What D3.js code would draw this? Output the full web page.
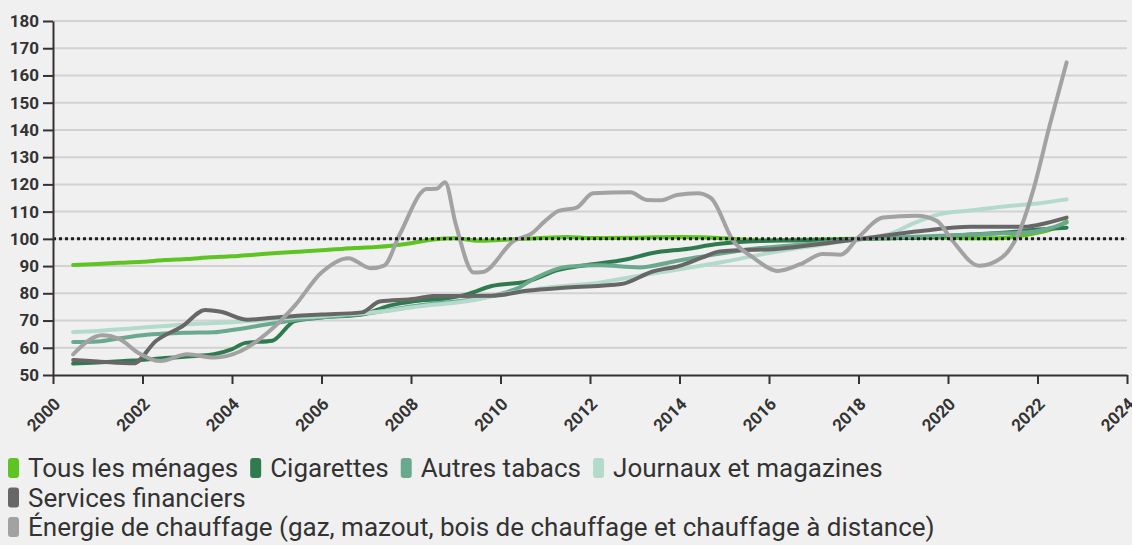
<!DOCTYPE html>
<html>
<head>
<meta charset="utf-8">
<script src="https://cdn.jsdelivr.net/npm/d3@7"></script>
<style>
	html, body { margin: 0; padding: 0; background: #f0f0f0; }
	svg { display: block; font-family: Roboto, "Noto Sans", sans-serif; }
</style>
</head>
<body>
<svg id="chart" width="1132" height="545"></svg>
<script>
// values, [year, index]
const menages = [
	[2000.45, 90.4], [2001, 90.8], [2001.5, 91.2], [2002, 91.6], [2002.5, 92.2], [2003, 92.6],
	[2003.5, 93.2], [2004, 93.6], [2004.5, 94.2], [2005, 94.8], [2005.5, 95.3], [2006, 95.8],
	[2006.5, 96.4], [2007, 96.8], [2007.5, 97.4], [2008, 98.4], [2008.5, 99.8], [2009, 100.2],
	[2009.5, 99.3], [2010, 99.6], [2010.5, 100], [2011, 100.4], [2011.5, 100.7], [2012, 100.3],
	[2013, 100.4], [2014, 100.7], [2014.5, 100.6], [2015, 100.2], [2015.5, 99.7], [2016, 99.5],
	[2017, 99.8], [2018, 100], [2019, 100.3], [2020, 100.4], [2020.5, 100.2], [2021, 100.2],
	[2021.5, 100.8], [2022, 102.2], [2022.3, 103.5], [2022.65, 106.4]
];

const cigarettes = [
	[2000.45, 54.2], [2001, 54.6], [2001.8, 55.3], [2002.5, 56.2], [2003, 56.8], [2003.6, 57.6],
	[2004, 59.5], [2004.3, 61.8], [2004.9, 62.6], [2005.4, 69.8], [2006, 71.1], [2006.9, 72.2],
	[2007.5, 75.4], [2008.1, 77.2], [2008.8, 78.2], [2009.25, 79.6], [2009.8, 82.7], [2010.6, 84.4],
	[2011.3, 88.6], [2011.9, 90.3], [2012.8, 92.4], [2013.4, 94.8], [2014.2, 96.4], [2014.8, 98],
	[2015.8, 99.2], [2016.5, 99.4], [2017.5, 99.6], [2018.5, 100.2], [2019.5, 100.6], [2020.5, 101.6],
	[2021.5, 102.6], [2022, 103.4], [2022.65, 104.1]
];

const autresTabacs = [
	[2000.45, 62.1], [2001, 62.3], [2001.5, 63.5], [2002, 64.6], [2002.5, 65.2], [2003, 65.5],
	[2003.6, 65.7], [2004, 66.5], [2004.5, 67.8], [2005, 69.2], [2005.5, 70.4], [2006, 71.2],
	[2007, 72.6], [2007.5, 73.8], [2008, 75.2], [2008.5, 76.2], [2009, 77], [2009.5, 78],
	[2010, 79.8], [2010.4, 82], [2010.8, 85.8], [2011.5, 89.8], [2012.2, 90.3], [2013.1, 89.5],
	[2013.9, 91.8], [2014.8, 94.3], [2015.8, 96.6], [2016.5, 97.6], [2017.5, 99], [2018.2, 100],
	[2019, 100.6], [2020, 101.2], [2021, 101.9], [2021.8, 102.4], [2022.3, 104], [2022.65, 106]
];

const journaux = [
	[2000.45, 65.8], [2001, 66.2], [2001.5, 66.8], [2002, 67.4], [2002.5, 68], [2003, 68.6],
	[2003.5, 69], [2004, 69.4], [2004.5, 69.9], [2005, 70.6], [2005.5, 71.2], [2006, 71.6],
	[2006.5, 72.2], [2007, 72.8], [2007.5, 73.6], [2008, 74.8], [2008.5, 75.8], [2009, 76.5],
	[2009.5, 77.8], [2010, 79.6], [2010.5, 80.8], [2011, 82], [2011.5, 82.8], [2012.2, 83.9],
	[2013, 86.2], [2013.5, 87.5], [2014, 88.8], [2014.5, 90.2], [2015, 91.6], [2015.5, 93.2],
	[2016, 94.8], [2016.5, 96.2], [2017, 97.4], [2017.5, 98.7], [2018, 100], [2018.7, 101.8],
	[2019.2, 105.5], [2019.8, 109], [2020.5, 110.4], [2021.3, 112], [2022, 113], [2022.65, 114.5]
];

const services = [
	[2000.45, 55.5], [2001, 55], [2001.8, 54.3], [2002.3, 62.5], [2002.9, 68], [2003.4, 73.9],
	[2003.75, 73.2], [2004.35, 70.3], [2004.9, 71], [2005.4, 71.7], [2006, 72.2], [2006.9, 73],
	[2007.3, 77], [2008.1, 78], [2008.5, 79], [2009.8, 79.1], [2010.6, 80.9], [2011.5, 82.1],
	[2012.7, 83.4], [2013.4, 88], [2014, 90.1], [2014.5, 93.1], [2014.9, 95.4], [2015.3, 95.8],
	[2016.1, 96.2], [2017, 97.8], [2018, 99.9], [2019.4, 102.9], [2020.5, 104.4], [2021.7, 104.4],
	[2022.2, 105.8], [2022.65, 107.8]
];

const energie = [
	[2000.45, 57.6], [2001.1, 64.6], [2001.5, 63.1], [2001.9, 58.2], [2002.4, 55.1], [2003, 57.6],
	[2003.6, 56.4], [2004.2, 58.8], [2004.8, 65.6], [2005.4, 75.4], [2006, 87.6], [2006.6, 92.9],
	[2007.1, 89.2], [2007.4, 90.2], [2007.75, 101.7], [2008.35, 118.3], [2008.57, 118.4], [2008.76, 120.8],
	[2009, 105.4], [2009.4, 87.6], [2009.6, 87.8], [2010.3, 99.3], [2010.7, 102], [2011, 106.6],
	[2011.3, 110.3], [2011.7, 111.5], [2012.07, 116.7], [2012.9, 117.1], [2013.27, 114.3], [2013.6, 114.2],
	[2013.94, 116.1], [2014.4, 116.7], [2014.7, 115], [2015.2, 99.3], [2015.65, 93.1], [2016.2, 88.2],
	[2016.7, 90.7], [2017.2, 94.4], [2017.6, 94.2], [2018, 100.6], [2018.55, 107.8], [2019.3, 108.5],
	[2019.75, 106.6], [2020.1, 99.3], [2020.7, 90.1], [2021.2, 93.1], [2021.6, 102.9], [2021.9, 117.6],
	[2022.28, 142.2], [2022.65, 164.8]
];

const seriesNames = [
	"Tous les ménages",
	"Cigarettes",
	"Autres tabacs",
	"Journaux et magazines",
	"Services financiers",
	"Énergie de chauffage (gaz, mazout, bois de chauffage et chauffage à distance)"
];
const seriesColors = ["#5ec422", "#2f7b4f", "#6ba98e", "#b4dacb", "#676767", "#a2a2a2"];
const seriesData = [menages, cigarettes, autresTabacs, journaux, services, energie];

const yTicks = [50, 60, 70, 80, 90, 100, 110, 120, 130, 140, 150, 160, 170, 180];
const xTicks = [2000, 2002, 2004, 2006, 2008, 2010, 2012, 2014, 2016, 2018, 2020, 2022, 2024];
const baseline = 100;

const svg = d3.select('#chart');

const x = d3.scaleLinear().domain([2000, 2024]).range([53, 1127]);
const y = d3.scaleLinear().domain([50, 180]).range([375, 21]);

// grid
svg.append('g')
	.selectAll('line')
	.data(yTicks.filter(t => t > 50))
	.enter().append('line')
	.attr('x1', x(2000))
	.attr('x2', x(2024))
	.attr('y1', d => y(d))
	.attr('y2', d => y(d))
	.attr('stroke', '#d2d2d2')
	.attr('stroke-width', 2);

// lines
const line = d3.line()
	.x(d => x(d[0]))
	.y(d => y(d[1]))
	.curve(d3.curveMonotoneX);

svg.append('g')
	.selectAll('path')
	.data(seriesData)
	.enter().append('path')
	.attr('d', line)
	.attr('fill', 'none')
	.attr('stroke', (d, i) => seriesColors[i])
	.attr('stroke-width', 4)
	.attr('stroke-linejoin', 'round')
	.attr('stroke-linecap', 'round');

// reference line at 100
svg.append('line')
	.attr('x1', x(2000))
	.attr('x2', x(2024))
	.attr('y1', y(baseline))
	.attr('y2', y(baseline))
	.attr('stroke', '#1e1e1e')
	.attr('stroke-width', 3)
	.attr('stroke-dasharray', '3,3');

// axes
const yAxis = svg.append('g')
	.attr('transform', `translate(${x(2000)},0)`)
	.call(d3.axisLeft(y).tickValues(yTicks).tickSize(10).tickPadding(4).tickSizeOuter(0));

const xAxis = svg.append('g')
	.attr('transform', `translate(0,${y(50)})`)
	.call(d3.axisBottom(x).tickValues(xTicks).tickFormat(d3.format('d')).tickSize(9).tickSizeOuter(0));

[yAxis, xAxis].forEach(a => {
	a.select('.domain').attr('stroke', '#333').attr('stroke-width', 2);
	a.selectAll('.tick line').attr('stroke', '#333').attr('stroke-width', 2);
	a.selectAll('.tick text')
		.attr('fill', '#333')
		.style('font-size', '17px')
		.style('font-weight', 'bold')
		.style('font-family', 'Roboto, sans-serif');
});

xAxis.selectAll('.tick text')
	.attr('text-anchor', 'end')
	.attr('dy', null)
	.attr('y', 0)
	.attr('transform', 'translate(8,30) rotate(-45)');

// legend, flowing in rows
const legend = svg.append('g');
const maxWidth = 1000;
let lx = 8, ly = 468;

seriesNames.forEach((name, i) => {
	const item = legend.append('g');
	item.append('rect')
		.attr('width', 11)
		.attr('height', 20)
		.attr('rx', 3)
		.attr('y', -10)
		.attr('fill', seriesColors[i]);
	const t = item.append('text')
		.attr('x', 20)
		.attr('dy', '0.35em')
		.attr('fill', '#333')
		.style('font-size', '26px')
		.text(name);

	const w = 20 + t.node().getComputedTextLength();
	if (lx > 8 && lx + w > maxWidth) {
		lx = 8;
		ly += 29.5;
	}
	item.attr('transform', `translate(${lx},${ly})`);
	lx += w + 12;
});
</script>
</body>
</html>
